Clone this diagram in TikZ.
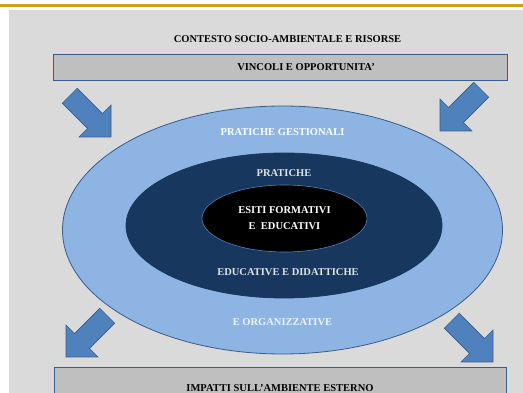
\documentclass[tikz,border=0pt]{standalone}
\usepackage{fontspec}
\setmainfont{Liberation Serif}
\usetikzlibrary{shapes.geometric}
\definecolor{bggray}{RGB}{218,218,218}
\definecolor{boxgray}{RGB}{191,191,191}
\definecolor{bordblue}{RGB}{56,93,138}
\definecolor{arrowblue}{RGB}{79,129,189}
\definecolor{lightring}{RGB}{141,180,226}
\definecolor{navyring}{RGB}{23,55,94}
\definecolor{goldline}{RGB}{208,158,10}
\definecolor{palegray}{RGB}{222,226,232}
\definecolor{paleblue}{RGB}{238,243,251}
\begin{document}
\begin{tikzpicture}[x=1pt,y=-1pt,
	every node/.style={font=\bfseries\fontsize{10.5}{16}\selectfont,inner sep=0pt},
	bandbox/.style={draw=bordblue,fill=boxgray,line width=0.8pt,minimum width=454pt,minimum height=26pt},
	ring/.style={ellipse,draw=bordblue,line width=0.8pt},
	ringtext/.style={text=white},
	paletext/.style={text=palegray},
	blockarrow/.style={fill=arrowblue,draw=bordblue,line width=0.6pt}]
	\useasboundingbox (0,0) rectangle (523,393);
	\clip (0,0) rectangle (523,393);
	\fill[white] (0,0) rectangle (523,393);
	\fill[goldline] (0,3.6) rectangle (523,6.6);
	\fill[bggray] (9,10) rectangle (523,393);
	\node (contesto) at (287.5,39) {CONTESTO SOCIO-AMBIENTALE E RISORSE};
	\node[bandbox] (vincoli) at (280,67) {};
	\node at ([xshift=26pt]vincoli.center) (vincolitext) {VINCOLI E OPPORTUNITA'};
	\node[bandbox,minimum width=452pt,minimum height=42pt] (impatti) at (280,388) {};
	\node at (impatti.center) (impattitext) {IMPATTI SULL'AMBIENTE ESTERNO};
	\foreach \x/\y/\a in {111/137/-45,440/131/-135,66/357/-135,493/362/-45}
		\draw[blockarrow,shift={(\x,\y)},rotate=\a] (0,0) -- (-22.6,22.6) -- (-22.6,10.5) -- (-58.3,10.5) -- (-58.3,-10.5) -- (-22.6,-10.5) -- (-22.6,-22.6) -- cycle;
	\node[ring,fill=lightring,minimum width=440pt,minimum height=248pt] (outer) at (282.5,230) {};
	\node[ring,fill=navyring,draw=navyring,minimum width=316pt,minimum height=145pt] (middle) at (284,225.5) {};
	\node[ring,fill=black,draw=arrowblue,line width=0.6pt,minimum width=165pt,minimum height=67pt,align=center,text=white] (inner) at (284.5,218.5) {ESITI FORMATIVI\\E\ \ EDUCATIVI};
	\node[ringtext] (gestionali) at ([yshift=-26pt]outer.north) {PRATICHE GESTIONALI};
	\node[paletext,text=paleblue] (organizzative) at ([yshift=32pt]outer.south) {E ORGANIZZATIVE};
	\node[paletext] (pratiche) at ([yshift=-20pt]middle.north) {PRATICHE};
	\node[paletext] (educative) at ([xshift=4pt,yshift=26pt]middle.south) {EDUCATIVE E DIDATTICHE};
\end{tikzpicture}
\end{document}
